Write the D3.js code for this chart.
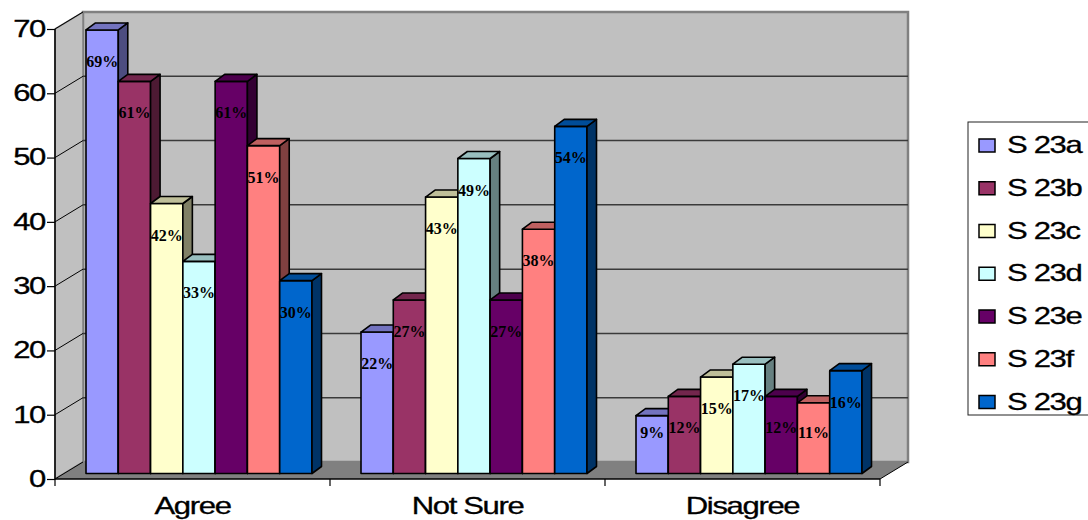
<!DOCTYPE html>
<html>
<head>
<meta charset="utf-8">
<script src="https://cdn.jsdelivr.net/npm/d3@7"></script>
<style>
  body { margin: 0; background: #fff; }
  svg { display: block; }
</style>
</head>
<body>
<svg id="chart" width="1088" height="520"></svg>
<script>
// ---- data ----
const categories = ["Agree", "Not Sure", "Disagree"];
const seriesNames = ["S 23a", "S 23b", "S 23c", "S 23d", "S 23e", "S 23f", "S 23g"];
const agreeValues = [69, 61, 42, 33, 61, 51, 30];
const notSureValues = [22, 27, 43, 49, 27, 38, 54];
const disagreeValues = [9, 12, 15, 17, 12, 11, 16];
const seriesColors = ["#9999FF", "#993366", "#FFFFCC", "#CCFFFF", "#660066", "#FF8080", "#0066CC"];
const yTicks = [0, 10, 20, 30, 40, 50, 60, 70];

const valuesByCategory = [agreeValues, notSureValues, disagreeValues];

// ---- layout ----
const svg = d3.select("#chart");
const plot = { left: 55, right: 880, top: 29, bottom: 479 };
const wall = { dx: 28, dy: -17 };          // oblique depth of the back wall
const barFront = { dx: 8, dy: -5.5 };      // depth offset of the bar front faces
const barDepth = { dx: 9.5, dy: -7 };      // depth of each bar
const textStretch = 1.35;
const sansFont = "'Liberation Sans', Arial, sans-serif";

const x = d3.scaleBand().domain(categories).range([plot.left, plot.right]);
const xs = d3.scaleBand().domain(seriesNames).range([23, x.bandwidth() - 26]);
const y = d3.scaleLinear().domain([0, 70]).range([plot.bottom, plot.top]);
const color = d3.scaleOrdinal().domain(seriesNames).range(seriesColors);

function shade(c, k) {
  const r = d3.rgb(c);
  return d3.rgb(r.r * k, r.g * k, r.b * k).formatHex();
}
const pts = a => a.map(p => p.join(",")).join(" ");

// ---- walls and floor ----
const gWalls = svg.append("g");
const y0 = y(0), yTop = y(70);
const bx0 = plot.left + wall.dx, bx1 = plot.right + wall.dx;

// back wall
gWalls.append("polygon")
  .attr("points", pts([[bx0, yTop + wall.dy], [bx1, yTop + wall.dy], [bx1, y0 + wall.dy], [bx0, y0 + wall.dy]]))
  .attr("fill", "#c0c0c0").attr("stroke", "#808080").attr("stroke-width", 2.5);

// left side wall
gWalls.append("polygon")
  .attr("points", pts([[plot.left, yTop], [bx0, yTop + wall.dy], [bx0, y0 + wall.dy], [plot.left, y0]]))
  .attr("fill", "#c0c0c0").attr("stroke", "#808080").attr("stroke-width", 1.5);

// gridlines on the back wall
gWalls.selectAll("line.grid")
  .data(yTicks.filter(t => t > 0 && t < 70))
  .join("line").attr("class", "grid")
  .attr("x1", bx0).attr("x2", bx1)
  .attr("y1", d => y(d) + wall.dy).attr("y2", d => y(d) + wall.dy)
  .attr("stroke", "#3a3a3a").attr("stroke-width", 1.5);

// floor
gWalls.append("polygon")
  .attr("points", pts([[plot.left, y0], [bx0, y0 + wall.dy], [bx1, y0 + wall.dy], [plot.right, y0]]))
  .attr("fill", "#808080");
gWalls.append("line")
  .attr("x1", plot.right).attr("y1", y0).attr("x2", bx1).attr("y2", y0 + wall.dy)
  .attr("stroke", "#000").attr("stroke-width", 1);

// diagonal tick lines across the side wall
gWalls.selectAll("line.diag")
  .data(yTicks)
  .join("line").attr("class", "diag")
  .attr("x1", plot.left).attr("y1", d => y(d))
  .attr("x2", bx0).attr("y2", d => y(d) + wall.dy)
  .attr("stroke", "#000").attr("stroke-width", 1);

// ---- bars ----
const gBars = svg.append("g");
const labels = [];
categories.forEach((cat, ci) => {
  const vals = valuesByCategory[ci];
  seriesNames.forEach((s, si) => {
    const v = vals[si];
    const w = xs.bandwidth();
    const fx = x(cat) + xs(s) + barFront.dx;
    const ft = y(v) + barFront.dy;
    const fb = y(0) + barFront.dy;
    const c = color(s);
    const g = gBars.append("g")
      .attr("stroke", "#000").attr("stroke-width", 1.6).attr("stroke-linejoin", "round");
    g.append("rect")
      .attr("x", fx).attr("y", ft).attr("width", w).attr("height", fb - ft)
      .attr("fill", c);
    g.append("polygon")
      .attr("points", pts([[fx + w, ft], [fx + w + barDepth.dx, ft + barDepth.dy],
                           [fx + w + barDepth.dx, fb + barDepth.dy], [fx + w, fb]]))
      .attr("fill", shade(c, 0.5));
    g.append("polygon")
      .attr("points", pts([[fx, ft], [fx + barDepth.dx, ft + barDepth.dy],
                           [fx + w + barDepth.dx, ft + barDepth.dy], [fx + w, ft]]))
      .attr("fill", shade(c, 0.75));
    labels.push({ v, cx: fx + w / 2, by: Math.min(ft + 37, fb - 36) });
  });
});

// value labels
svg.append("g").selectAll("text")
  .data(labels)
  .join("text")
  .attr("x", d => d.cx).attr("y", d => d.by)
  .attr("text-anchor", "middle")
  .attr("font-family", "'Liberation Serif', 'Times New Roman', serif")
  .attr("font-weight", "bold").attr("font-size", 16)
  .attr("fill", "#000")
  .text(d => d.v + "%");

// ---- axes ----
const yAxis = svg.append("g")
  .attr("transform", `translate(${plot.left},0)`)
  .call(d3.axisLeft(y).tickValues(yTicks).tickSize(8).tickFormat(d3.format("d")));
yAxis.select(".domain").attr("stroke", "#000").attr("stroke-width", 1.5).attr("d", `M0,${y(70)}V${y(0)}`);
yAxis.selectAll(".tick line").attr("stroke", "#000").attr("stroke-width", 1.2);
yAxis.selectAll(".tick text")
  .attr("x", -10 / textStretch)
  .attr("transform", `scale(${textStretch},1)`)
  .attr("font-family", sansFont).attr("font-size", 23)
  .attr("letter-spacing", -1).attr("fill", "#000")
  .attr("stroke", "#000").attr("stroke-width", 0.3);

// category axis: baseline along the floor front edge, ticks at band boundaries
const gx = svg.append("g");
gx.append("line")
  .attr("x1", plot.left).attr("x2", plot.right).attr("y1", y0).attr("y2", y0)
  .attr("stroke", "#000").attr("stroke-width", 1.5);
const bounds = categories.map(c => x(c)).concat([x(categories[categories.length - 1]) + x.bandwidth()]);
gx.selectAll("line.xt")
  .data(bounds)
  .join("line").attr("class", "xt")
  .attr("x1", d => d).attr("x2", d => d).attr("y1", y0).attr("y2", y0 + 7)
  .attr("stroke", "#000").attr("stroke-width", 1.2);
gx.selectAll("g.xl")
  .data(categories)
  .join("g").attr("class", "xl")
  .attr("transform", d => `translate(${x(d) + x.bandwidth() / 2},514)`)
  .append("text")
  .attr("transform", `scale(${textStretch},1)`)
  .attr("text-anchor", "middle")
  .attr("font-family", sansFont).attr("font-size", 23)
  .attr("letter-spacing", -1).attr("fill", "#000")
  .attr("stroke", "#000").attr("stroke-width", 0.3)
  .text(d => d);

// ---- legend ----
const legend = svg.append("g");
legend.append("rect")
  .attr("x", 968).attr("y", 122).attr("width", 140).attr("height", 293)
  .attr("fill", "#fff").attr("stroke", "#222").attr("stroke-width", 1);
const rowY = d3.scalePoint().domain(seriesNames).range([145.5, 402]);
const items = legend.selectAll("g.item")
  .data(seriesNames)
  .join("g").attr("class", "item")
  .attr("transform", d => `translate(0,${rowY(d)})`);
items.append("rect")
  .attr("x", 979).attr("y", -6.5).attr("width", 16).attr("height", 13)
  .attr("fill", d => color(d)).attr("stroke", "#000").attr("stroke-width", 1.5);
items.append("g")
  .attr("transform", "translate(1007,7.5)")
  .append("text")
  .attr("transform", `scale(${textStretch},1)`)
  .attr("font-family", sansFont).attr("font-size", 23)
  .attr("letter-spacing", -1).attr("fill", "#000")
  .attr("stroke", "#000").attr("stroke-width", 0.3)
  .text(d => d);
</script>
</body>
</html>
